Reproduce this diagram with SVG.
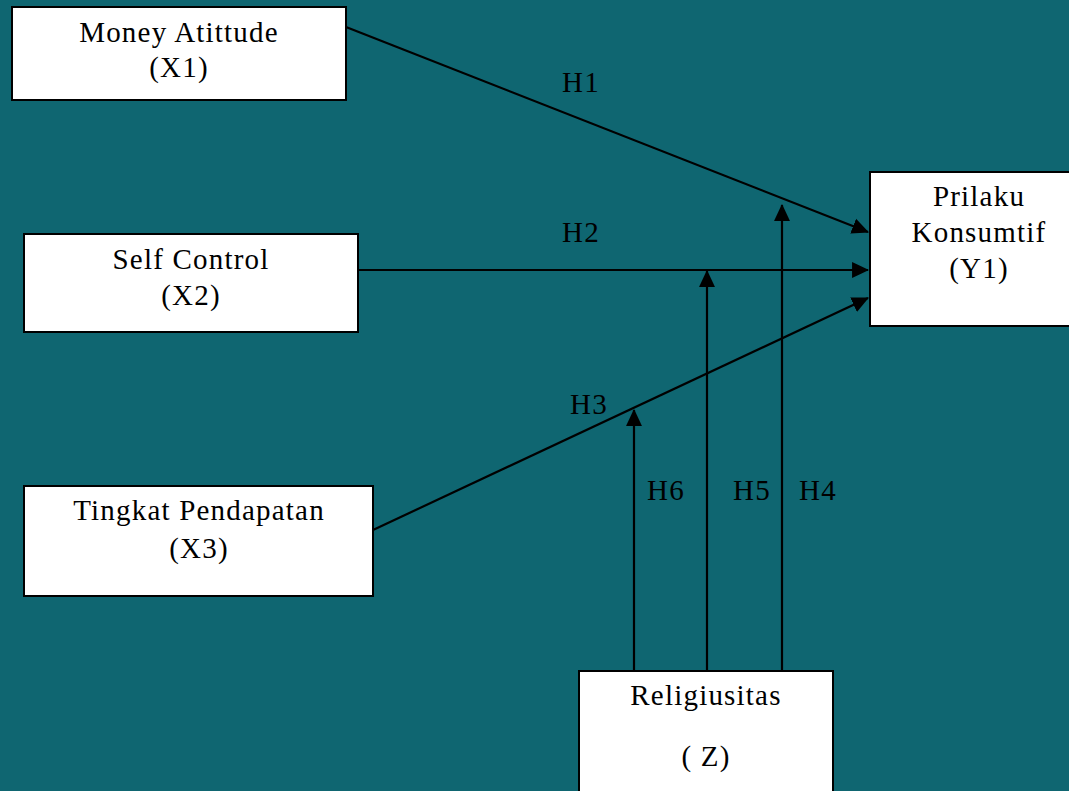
<svg xmlns="http://www.w3.org/2000/svg" width="1069" height="791" viewBox="0 0 1069 791">
<defs>
<style>
.box{fill:#ffffff;stroke:#000000;stroke-width:2}
.t{font-family:"Liberation Serif","Times New Roman",serif;font-size:29px;fill:#000000;letter-spacing:1.2px;text-anchor:middle}
.lbl{font-family:"Liberation Serif","Times New Roman",serif;font-size:29px;fill:#000000;letter-spacing:1.2px}
.c{stroke:#000000;stroke-width:2.2;fill:none}
</style>
<marker id="ah" markerUnits="userSpaceOnUse" markerWidth="17" markerHeight="17" viewBox="0 0 16 15" refX="15" refY="7.5" orient="auto">
<path d="M0,0 L16,7.5 L0,15 Z" fill="#000000"/>
</marker>
</defs>
<rect x="0" y="0" width="1069" height="791" fill="#0f6671"/>
<g id="connectors">
<path class="c" d="M346,27 L868,232" marker-end="url(#ah)"/>
<path class="c" d="M358,270 L868,270" marker-end="url(#ah)"/>
<path class="c" d="M373,530 L868,298" marker-end="url(#ah)"/>
<path class="c" d="M634,671 L634,410" marker-end="url(#ah)"/>
<path class="c" d="M707,671 L707,271" marker-end="url(#ah)"/>
<path class="c" d="M782,671 L782,205" marker-end="url(#ah)"/>
<text class="lbl" x="562" y="92">H1</text>
<text class="lbl" x="562" y="242">H2</text>
<text class="lbl" x="570" y="414">H3</text>
<text class="lbl" x="647" y="500">H6</text>
<text class="lbl" x="733" y="500">H5</text>
<text class="lbl" x="799" y="500">H4</text>
</g>
<g id="x1">
<rect class="box" x="12" y="7" width="334" height="93"/>
<text class="t" x="179" y="42">Money Atittude</text>
<text class="t" x="179" y="77">(X1)</text>
</g>
<g id="x2">
<rect class="box" x="24" y="234" width="334" height="98"/>
<text class="t" x="191" y="269">Self Control</text>
<text class="t" x="191" y="305">(X2)</text>
</g>
<g id="x3">
<rect class="box" x="24" y="486" width="349" height="110"/>
<text class="t" x="199" y="520">Tingkat Pendapatan</text>
<text class="t" x="199" y="558">(X3)</text>
</g>
<g id="y1">
<rect class="box" x="870" y="172" width="205" height="154"/>
<text class="t" x="979" y="206">Prilaku</text>
<text class="t" x="979" y="242">Konsumtif</text>
<text class="t" x="979" y="278">(Y1)</text>
</g>
<g id="z">
<rect class="box" x="579" y="671" width="254" height="130"/>
<text class="t" x="706" y="705">Religiusitas</text>
<text class="t" x="706" y="766">( Z)</text>
</g>
</svg>
